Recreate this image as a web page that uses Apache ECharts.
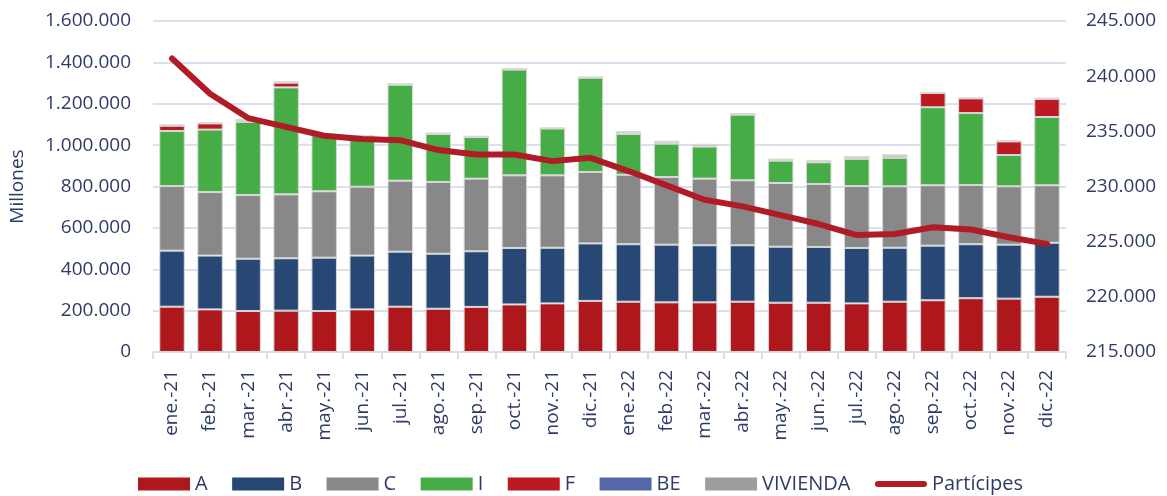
<!DOCTYPE html>
<html>
<head>
<meta charset="utf-8">
<script src="https://cdn.jsdelivr.net/npm/echarts@6/dist/echarts.min.js"></script>
<style>
  html, body { margin: 0; padding: 0; background: #fff; }
  #chart { width: 1167px; height: 496px; }
</style>
</head>
<body>
<div id="chart"></div>
<script>
const months = ['ene.-21', 'feb.-21', 'mar.-21', 'abr.-21', 'may.-21', 'jun.-21', 'jul.-21', 'ago.-21', 'sep.-21', 'oct.-21', 'nov.-21', 'dic.-21',
  'ene.-22', 'feb.-22', 'mar.-22', 'abr.-22', 'may.-22', 'jun.-22', 'jul.-22', 'ago.-22', 'sep.-22', 'oct.-22', 'nov.-22', 'dic.-22'];

// millones, por segmento apilado
const serieA = [219000, 206000, 198000, 200000, 198000, 206000, 219000, 209000, 218000, 230000, 235000, 247000,
  243000, 240000, 240000, 243000, 238000, 238000, 235000, 243000, 250000, 260000, 258000, 267000];
const serieB = [271000, 260000, 253000, 253000, 258000, 260000, 266000, 266000, 269000, 273000, 269000, 278000,
  278000, 279000, 276000, 273000, 271000, 270000, 268000, 261000, 264000, 261000, 261000, 261000];
const serieC = [312000, 307000, 308000, 309000, 321000, 333000, 343000, 347000, 351000, 351000, 350000, 345000,
  336000, 327000, 322000, 314000, 308000, 304000, 299000, 297000, 292000, 286000, 282000, 278000];
const serieI = [266000, 302000, 353000, 517000, 270000, 240000, 464000, 232000, 201000, 511000, 226000, 456000,
  197000, 161000, 155000, 317000, 108000, 105000, 132000, 138000, 377000, 348000, 151000, 330000];
const serieF = [26000, 30000, 9000, 23000, 4000, 4000, 2000, 2000, 2000, 2000, 1000, 1000,
  6000, 8000, 9000, 2000, 4000, 4000, 9000, 10000, 69000, 71000, 66000, 88000];
const serieBE = [0, 0, 0, 0, 0, 0, 0, 0, 0, 0, 0, 0,
  0, 0, 0, 0, 0, 0, 0, 0, 0, 0, 0, 0];
const serieVivienda = [6000, 5000, 5000, 6000, 5000, 5000, 3000, 3000, 3000, 3000, 3000, 4000,
  7000, 6000, 3000, 6000, 5000, 6000, 4000, 7000, 5000, 5000, 5000, 5000];
const participes = [241600, 238400, 236200, 235400, 234600, 234300, 234200, 233300, 232900, 232900, 232300, 232600,
  231400, 230100, 228800, 228200, 227400, 226600, 225600, 225700, 226300, 226100, 225400, 224800];

const textColor = '#2e3b68';
const fontFamily = '"Open Sans", sans-serif';
// icono de linea gruesa con extremos redondeados (52x13)
const lineIcon = 'path://M0,0M52,13M3,3.5L49,3.5A3,3,0,0,1,49,9.5L3,9.5A3,3,0,0,1,3,3.5Z';

function miles(v) {
  return String(v).replace(/\B(?=(\d{3})+(?!\d))/g, '.');
}

function barSerie(name, data, color) {
  return {
    name: name,
    type: 'bar',
    stack: 'total',
    data: data,
    barCategoryGap: '33%',
    itemStyle: { color: color, borderColor: '#d8d8d8', borderWidth: 1 }
  };
}

const chart = echarts.init(document.getElementById('chart'));

chart.setOption({
  animation: false,
  textStyle: { fontFamily: fontFamily },
  grid: { left: 152, right: 101, top: 21, bottom: 144 },
  legend: {
    left: 133,
    top: 469,
    icon: 'rect',
    itemWidth: 52,
    itemHeight: 13,
    itemGap: 24.5,
    itemStyle: { borderWidth: 0 },
    textStyle: { color: textColor, fontSize: 20, fontFamily: fontFamily },
    data: ['A', 'B', 'C', 'I', 'F', 'BE', 'VIVIENDA', { name: 'Partícipes', icon: lineIcon }]
  },
  xAxis: {
    type: 'category',
    data: months,
    axisLine: { lineStyle: { color: '#d9dcec', width: 2 } },
    axisTick: { show: true, length: 7, lineStyle: { color: '#d9dcec', width: 2 } },
    axisLabel: { rotate: 90, color: textColor, fontSize: 19, margin: 18 }
  },
  yAxis: [
    {
      type: 'value',
      min: 0,
      max: 1600000,
      interval: 200000,
      name: 'Millones',
      nameLocation: 'middle',
      nameGap: 126,
      nameTextStyle: { color: textColor, fontSize: 19 },
      axisLabel: { color: textColor, fontSize: 19, margin: 22, formatter: miles },
      splitLine: { lineStyle: { color: '#dcdfee', width: 2 } },
      axisLine: { show: false },
      axisTick: { show: false }
    },
    {
      type: 'value',
      min: 215000,
      max: 245000,
      interval: 5000,
      position: 'right',
      axisLabel: { color: textColor, fontSize: 19, margin: 20, formatter: miles },
      splitLine: { show: false },
      axisLine: { show: false },
      axisTick: { show: false }
    }
  ],
  series: [
    barSerie('A', serieA, '#ae181d'),
    barSerie('B', serieB, '#274775'),
    barSerie('C', serieC, '#888889'),
    barSerie('I', serieI, '#46ad46'),
    barSerie('F', serieF, '#bd1923'),
    barSerie('BE', serieBE, '#5468ab'),
    barSerie('VIVIENDA', serieVivienda, '#9d9d9d'),
    {
      name: 'Partícipes',
      type: 'line',
      yAxisIndex: 1,
      data: participes,
      symbol: 'none',
      lineStyle: { color: '#b01c25', width: 6, cap: 'round', join: 'round' },
      itemStyle: { color: '#b01c25' },
      z: 5
    }
  ]
});
</script>
</body>
</html>
